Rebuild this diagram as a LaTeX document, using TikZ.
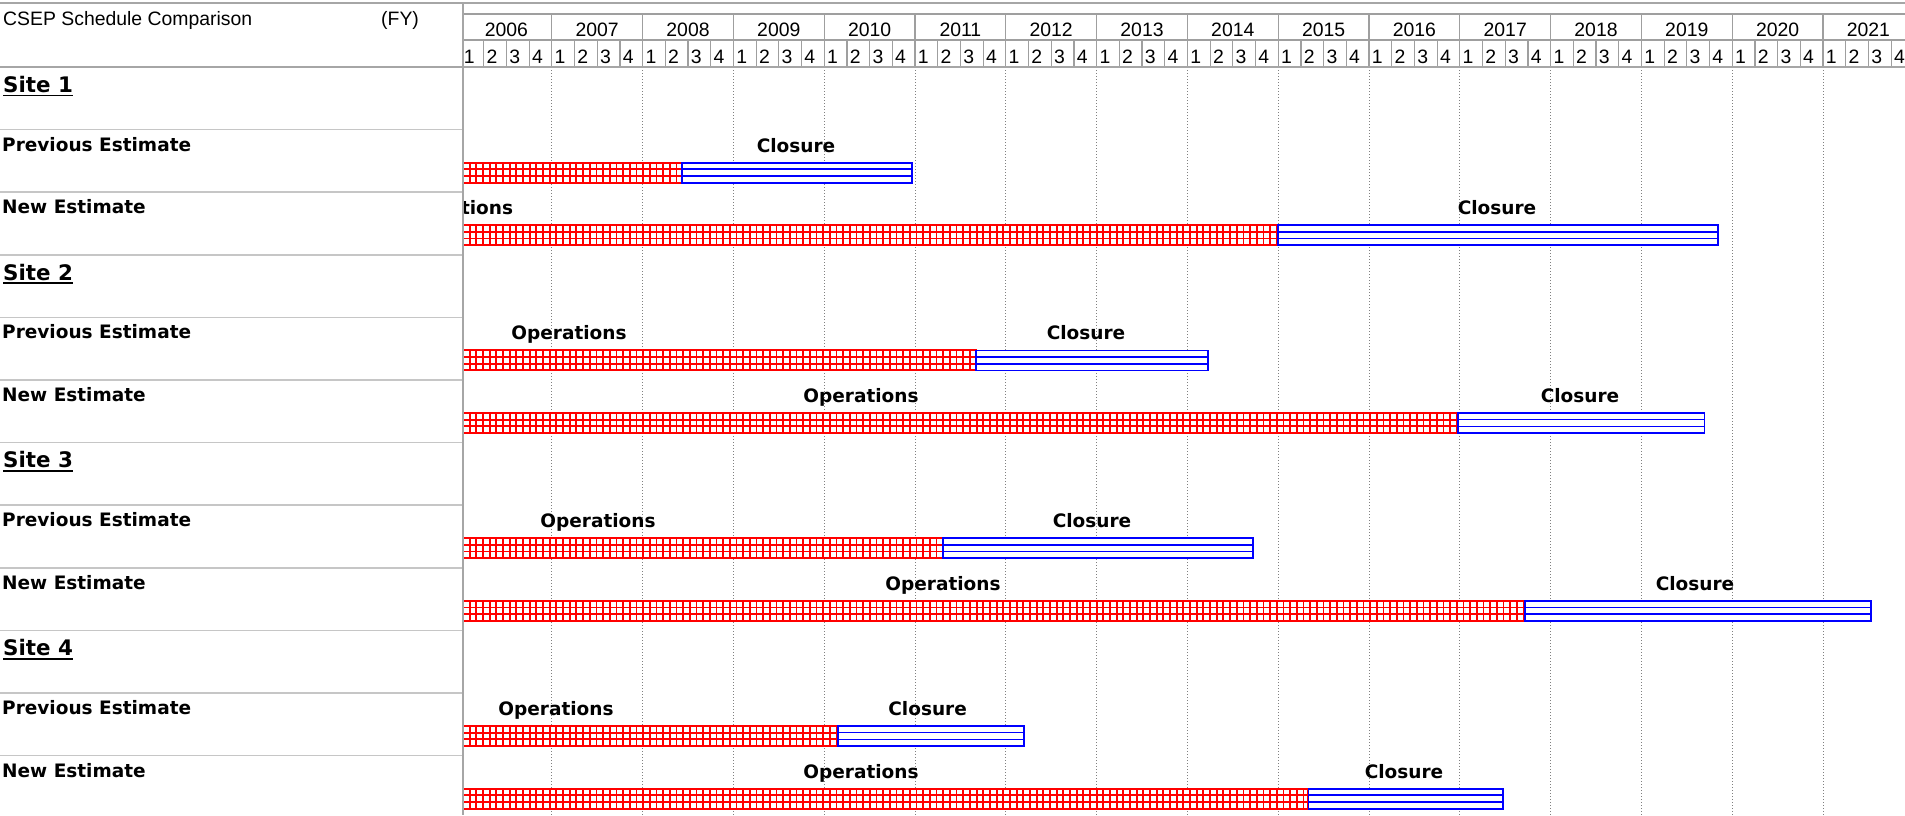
\documentclass[tikz,border=0pt]{standalone}
\usepackage{fontspec}
\setmainfont{Liberation Sans}
\newfontfamily\barfont{DejaVu Sans}

\begin{document}
\begin{tikzpicture}[
  x=1pt, y=-1pt,
  head/.style={inner sep=0pt, font=\fontsize{19.4}{22}\selectfont},
  rowlabel/.style={anchor=base west, inner sep=0pt, font=\barfont\bfseries\fontsize{18.5}{20}\selectfont},
  sitelabel/.style={anchor=base west, inner sep=0pt, font=\barfont\bfseries\fontsize{21.4}{24}\selectfont},
  phase/.style={anchor=base, inner sep=0pt, font=\barfont\bfseries\fontsize{18.5}{20}\selectfont},
  rule/.style={draw=gray!70, line width=1.6pt},
  sep/.style={draw=gray!45, line width=1.6pt},
  cell/.style={draw=gray!75, line width=1.2pt},
  yearline/.style={draw=gray, dotted, line width=1pt},
  ops/.style={draw=red, line width=2pt},
  clos/.style={draw=blue, line width=1.8pt}
]
\fill[white] (0,0) rectangle (1905,815);
\useasboundingbox (0,0) rectangle (1905,815);

% header, left part
\node[head, anchor=base west] (title) at (3,25) {CSEP Schedule Comparison};
\node[head, anchor=base west] (fy) at (381,25) {(FY)};

% row labels
\foreach \s in {1,...,4} {
  \pgfmathsetmacro\t{67+187.8*(\s-1)}
  \node[sitelabel] (site\s) at (3,\t+25.3) {Site \s};
  \draw[line width=1.6pt] ([yshift=-3pt]site\s.base west) -- ([yshift=-3pt]site\s.base east);
  \node[rowlabel] (prev\s) at (2,\t+62.6+21.4) {Previous Estimate};
  \node[rowlabel] (new\s) at (2,\t+125.2+21.4) {New Estimate};
}
\foreach \r in {1,...,11}
  \draw[sep] (0,67+62.6*\r) -- (463,67+62.6*\r);

\begin{scope}
\clip (463,0) rectangle (1905,815);
% year / quarter scale
\draw[cell] (463,14) -- (1905,14);
\foreach \i in {0,...,15} {
  \pgfmathsetmacro\xa{461+90.8*\i}
  \pgfmathtruncatemacro\yr{2006+\i}
  \draw[cell] (\xa,14) rectangle ++(90.8,26);
  \node[head, anchor=base] (fy\yr) at (\xa+45.4,36) {\yr};
  \foreach \q in {1,...,4} {
    \draw[cell] (\xa+22.7*\q-22.7,40) rectangle ++(22.7,27);
    \node[head, anchor=base west] (q\yr\q) at (\xa+22.7*\q-20,63) {\q};
  }
  \ifnum\i>0 \draw[yearline] (\xa,67) -- (\xa,815); \fi
}

% bars: row / end of operations / end of closure
\foreach \r/\a/\b in {1/682/912, 2/1278/1718, 4/975.6/1207.6, 5/1457.9/1704.5,
                      7/942.8/1252.6, 8/1524.7/1871, 10/838.3/1024, 11/1308.4/1502.8} {
  \pgfmathsetmacro\t{67+62.6*\r+33}
  \fill[white] (455,\t) rectangle (\b,\t+20);
  \foreach \x in {463,469.67,...,\a}
    \draw[ops, line width=1.8pt] (\x,\t) -- (\x,\t+20);
  \draw[ops, line width=1.8pt] (455,\t+6.67) -- (\a,\t+6.67);
  \draw[ops, line width=1.8pt] (455,\t+13.33) -- (\a,\t+13.33);
  \draw[ops] (455,\t) rectangle (\a,\t+20);
  \draw[clos] (\a,\t) rectangle (\b,\t+20);
  \draw[clos, line width=1.6pt] (\a,\t+6.67) -- (\b,\t+6.67);
  \draw[clos, line width=1.6pt] (\a,\t+13.33) -- (\b,\t+13.33);
}

\node[phase] (clos1) at (796,152.1) {Closure};
\node[phase] (ops2) at (455.5,214.7) {Operations};
\node[phase] (clos2) at (1497,214.7) {Closure};
\node[phase] (ops4) at (569,339.9) {Operations};
\node[phase] (clos4) at (1086,339.9) {Closure};
\node[phase] (ops5) at (861,402.5) {Operations};
\node[phase] (clos5) at (1580,402.5) {Closure};
\node[phase] (ops7) at (598,527.7) {Operations};
\node[phase] (clos7) at (1092,527.7) {Closure};
\node[phase] (ops8) at (943,590.3) {Operations};
\node[phase] (clos8) at (1695,590.3) {Closure};
\node[phase] (ops10) at (556,715.5) {Operations};
\node[phase] (clos10) at (927.6,715.5) {Closure};
\node[phase] (ops11) at (861,778.1) {Operations};
\node[phase] (clos11) at (1404,778.1) {Closure};
\end{scope}

% frame lines
\draw[rule] (0,3) -- (1905,3);
\draw[rule] (0,67) -- (1905,67);
\draw[rule] (463,3) -- (463,815);
\end{tikzpicture}
\end{document}
